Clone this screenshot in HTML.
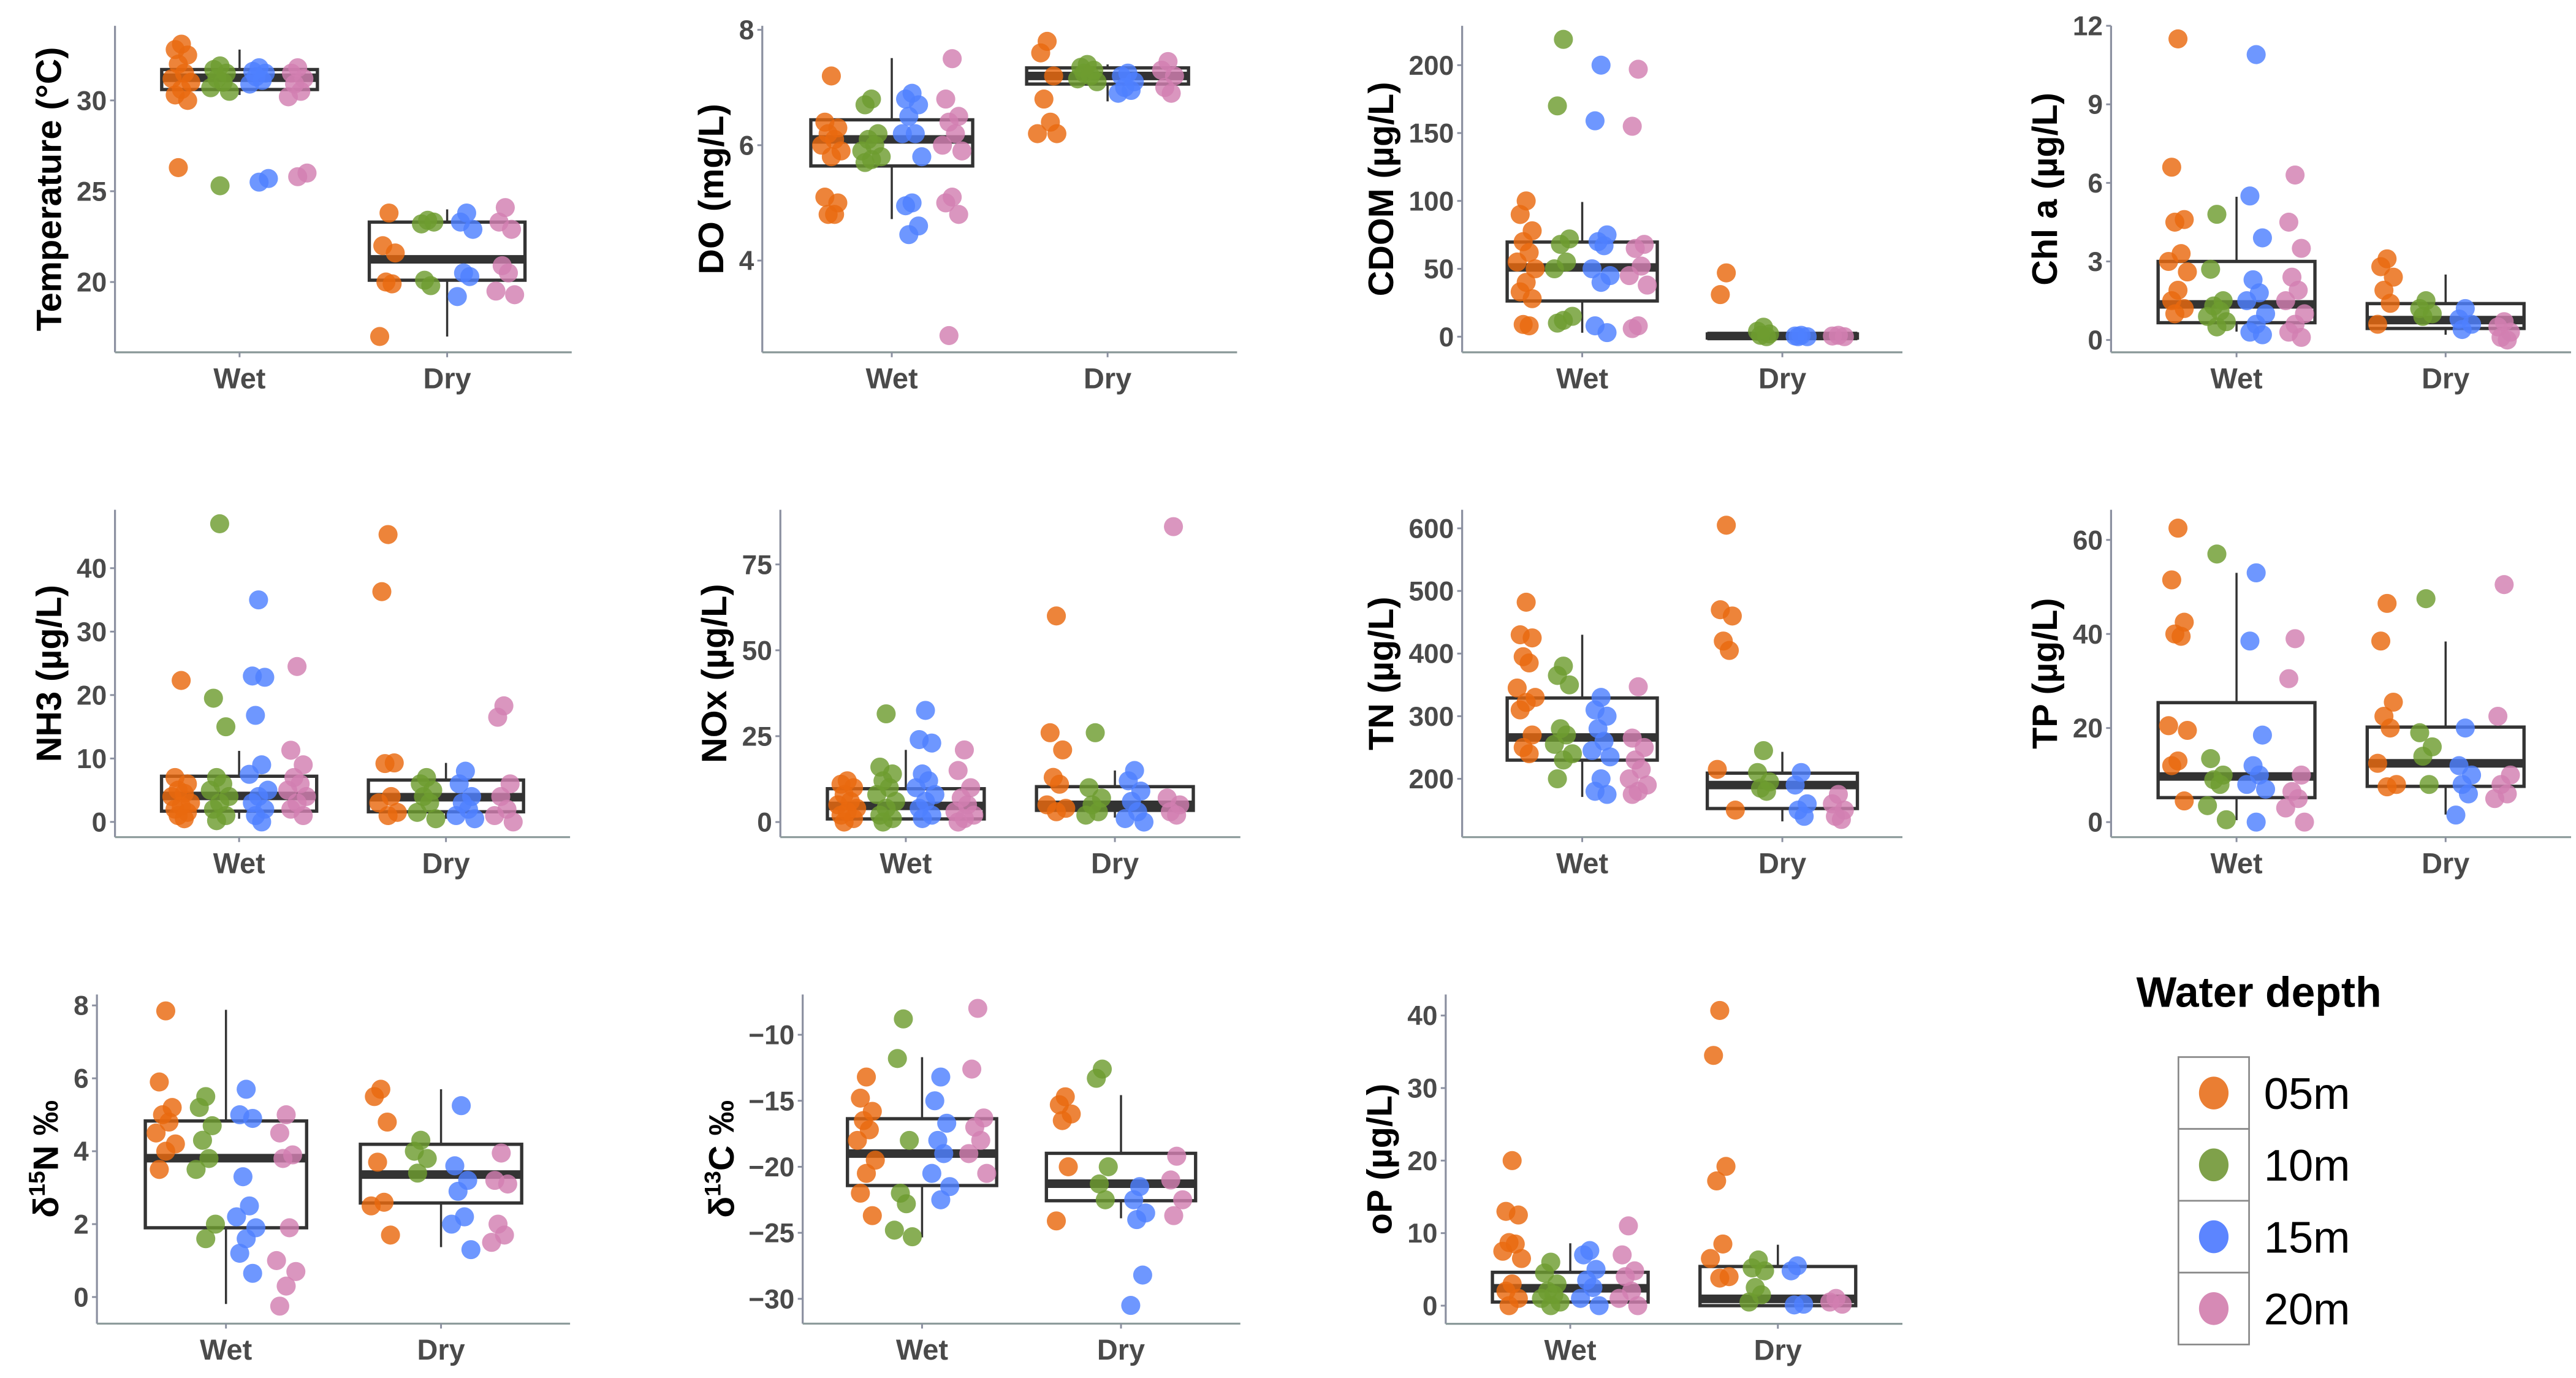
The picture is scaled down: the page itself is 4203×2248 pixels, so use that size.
<!DOCTYPE html>
<html><head><meta charset="utf-8">
<style>
html,body{margin:0;padding:0;background:#fff;}
svg{display:block;}
text{font-family:"Liberation Sans",Arial,sans-serif;}
</style></head>
<body>
<svg id="fig" xmlns="http://www.w3.org/2000/svg" width="4203" height="2248" viewBox="0 0 1568 839" preserveAspectRatio="none">
<rect x="0" y="0" width="1568" height="839" fill="#fff"/>
<g id="panels"></g>
<g id="legend">
  <text x="1375" y="613" font-size="26" font-weight="bold" text-anchor="middle" fill="#000">Water depth</text>
</g>
</svg>
<script>
const categories = ['Wet','Dry'];
const depths = ['05m','10m','15m','20m'];
const depthColors = ['#E9690F','#6E9C30','#4E80FF','#D27FB1'];
const legendColors = ['#EA7E33','#7FA14A','#5C85FF','#D68AB5'];

// Temperature
const tempTicks = [20,25,30];
const tempDomain = [16.13,34.11];
const tempBoxWet = [30.3,30.6,31.25,31.7,32.8];
const tempBoxDry = [17.0,20.1,21.25,23.3,24.0];
const tempWet = [[33.1,32.8,32.5,32.0,31.5,31.2,31.0,30.6,30.3,30.0,26.3],[31.9,31.7,31.5,31.2,31.0,30.7,30.5,25.3],[31.8,31.6,31.5,31.3,31.1,30.9,25.7,25.5],[31.8,31.5,31.2,30.9,30.5,30.2,26.0,25.8]];
const tempDry = [[23.8,22.0,21.6,20.0,19.9,17.0],[23.4,23.2,23.3,20.1,19.8],[23.8,23.3,22.9,20.5,20.3,19.2],[24.1,23.3,22.9,20.9,20.5,19.5,19.3]];

// DO
const doTicks = [4,6,8];
const doDomain = [2.41,8.07];
const doBoxWet = [4.72,5.64,6.1,6.44,7.51];
const doBoxDry = [6.76,7.06,7.2,7.34,7.4];
const doWet = [[7.2,6.4,6.3,6.2,6.1,6.0,5.9,5.8,5.1,5.0,4.8,4.8],[6.8,6.7,6.2,6.1,6.0,5.9,5.8,5.75,5.7],[6.9,6.8,6.7,6.5,6.2,6.2,5.8,5.0,4.95,4.6,4.45],[7.5,6.8,6.5,6.4,6.2,6.0,5.9,5.1,5.0,4.8,2.7]];
const doDry = [[7.8,7.6,7.2,6.8,6.4,6.2,6.2],[7.4,7.35,7.3,7.25,7.2,7.15,7.1],[7.25,7.2,7.1,7.0,6.95,6.9],[7.45,7.3,7.2,7.0,6.9]];

// CDOM
const cdomTicks = [0,50,100,150,200];
const cdomDomain = [-11.5,229];
const cdomBoxWet = [2.9,26.3,51,69.7,99.2];
const cdomBoxDry = [0,-1,0.5,2,2];
const cdomWet = [[100,90,78,70,62,55,50,40,33,28,9,8],[219,170,72,68,55,50,15,12,10],[200,159,75,70,67,50,45,40,8,3],[197,155,68,65,52,45,38,8,6]];
const cdomDry = [[47,31],[7,4,2,1,0],[1,0.5,0,0],[1,0.5,0]];

// Chl a
const chlTicks = [0,3,6,9,12];
const chlDomain = [-0.47,12.0];
const chlBoxWet = [0.32,0.66,1.36,3.0,5.47];
const chlBoxDry = [0.2,0.44,0.76,1.39,2.5];
const chlWet = [[11.5,6.6,4.6,4.5,3.3,3.0,2.6,1.9,1.5,1.2,1.0],[4.8,2.7,1.5,1.3,1.1,0.9,0.7,0.5],[10.9,5.5,3.9,2.3,1.8,1.5,1.0,0.6,0.3,0.2],[6.3,4.5,3.5,2.4,1.9,1.5,1.0,0.6,0.3,0.1]];
const chlDry = [[3.1,2.8,2.4,1.9,1.4,0.6],[1.5,1.2,1.0,0.9],[1.2,0.8,0.6,0.4],[0.7,0.5,0.3,0.1,0.0]];

// NH3
const nh3Ticks = [0,10,20,30,40];
const nh3Domain = [-2.4,49.2];
const nh3BoxWet = [0.5,1.7,4.1,7.2,11.2];
const nh3BoxDry = [0.5,1.6,3.9,6.6,9.3];
const nh3Wet = [[22.3,7,6,5,4.5,4,3,2.5,2,1.5,1,0.5],[47,19.5,15,7,6,5,4,3,2,1,0.2],[35,23,22.8,16.8,9,7.5,5,4,3,2,1,0],[24.5,11.3,9,7,6,5,4,3,2,1]];
const nh3Dry = [[45.3,36.3,9.3,9.2,4,3,1.5,1],[7,6,5,4,3,1.5,0.5],[8,6,4,3,2,1,0.5],[18.3,16.5,6,4,2,1,0]];

// NOx
const noxTicks = [0,25,50,75];
const noxDomain = [-4.4,90.9];
const noxBoxWet = [0.5,0.9,4.7,9.7,21];
const noxBoxDry = [1.3,3.4,5,10.3,15];
const noxWet = [[12,11,10,8,6,5,4,3,2,1,0],[31.5,16,14,12,10,8,6,4,2,1,0],[32.5,24,23,14,12,10,8,6,4,2,1],[21,15,10,7,5,3,2,1,0]];
const noxDry = [[60,26,21,13,11,5,4,3],[26,10,7,5,3,2],[15,12,9,6,3,1,0],[86,7,5,3,2]];

// TN
const tnTicks = [200,300,400,500,600];
const tnDomain = [106.8,629.6];
const tnBoxWet = [171,229.8,266,329,430];
const tnBoxDry = [132,152.5,190,209,243];
const tnWet = [[482,430,425,395,385,345,330,322,310,270,250,240],[380,365,350,280,270,255,240,230,200],[330,310,300,280,260,245,235,200,180,175],[347,265,250,230,215,200,190,180,175]];
const tnDry = [[605,470,460,420,405,215,150],[245,210,195,185,180],[210,190,160,150,140],[175,160,150,140,135]];

// TP
const tpTicks = [0,20,40,60];
const tpDomain = [-3.2,66.4];
const tpBoxWet = [0.4,5.2,9.7,25.4,53];
const tpBoxDry = [1.6,7.6,12.5,20.2,38.4];
const tpWet = [[62.5,51.5,42.5,40,39.5,20.5,19.5,13,12,4.5],[57,13.5,10,9,8,3.5,0.5],[53,38.5,18.5,12,10,8,7,0],[39,30.5,10,6.5,5,3,0]];
const tpDry = [[46.5,38.5,25.5,22.5,20,12.5,8,7.5],[47.5,19,16,14,8],[20,12,10,8,6,1.5],[50.5,22.5,10,8,6,5]];

// d15N
const n15Ticks = [0,2,4,6,8];
const n15Domain = [-0.73,8.30];
const n15BoxWet = [-0.19,1.9,3.81,4.83,7.88];
const n15BoxDry = [1.37,2.58,3.36,4.19,5.7];
const n15Wet = [[7.85,5.9,5.2,5.0,4.8,4.5,4.2,4.0,3.5],[5.5,5.2,4.7,4.3,3.8,3.5,2.0,1.6],[5.7,5.0,4.9,3.3,2.5,2.2,1.9,1.6,1.2,0.65],[5.0,4.5,3.9,3.8,1.9,1.0,0.7,0.3,-0.25]];
const n15Dry = [[5.7,5.5,4.8,3.7,2.6,2.5,1.7],[4.3,4.0,3.8,3.4],[5.25,3.6,3.2,2.9,2.2,2.0,1.3],[3.95,3.2,3.1,2.0,1.7,1.5]];

// d13C
const c13Ticks = [-30,-25,-20,-15,-10];
const c13Domain = [-31.88,-6.95];
const c13BoxWet = [-25.35,-21.42,-19.0,-16.36,-11.7];
const c13BoxDry = [-23.9,-22.57,-21.28,-18.98,-14.57];
const c13Wet = [[-13.2,-14.8,-15.8,-16.5,-17.2,-18,-19.5,-20.5,-22,-23.7],[-8.8,-11.8,-18.0,-22.0,-22.8,-24.8,-25.3],[-13.2,-15,-16.7,-18,-19,-20.5,-21.5,-22.5],[-8.0,-12.6,-16.3,-17,-18,-19,-20.5]];
const c13Dry = [[-14.7,-15.3,-16,-16.5,-20,-24.1],[-12.6,-13.3,-20,-21.3,-22.5],[-21.5,-22.5,-23.5,-24,-28.2,-30.5],[-19.2,-21,-22.5,-23.7]];

// oP
const opTicks = [0,10,20,30,40];
const opDomain = [-2.5,42.9];
const opBoxWet = [0.3,0.5,2.4,4.6,8.6];
const opBoxDry = [0,0,0.94,5.4,8.4];
const opWet = [[20,13,12.5,8.7,8.5,7.5,6.5,3,2,1,0],[6,4.5,3,2,1.5,1,0.5,0],[7.6,7,5,3.5,2.5,1,0],[11,7,4.8,4,2,1,0]];
const opDry = [[40.7,34.5,19.2,17.2,8.5,6.5,4,3.8],[6.3,5.2,4.8,2.5,1.5,0.5],[5.5,4.8,0.2,0.1],[1.0,0.5,0.2]];

const NS = 'http://www.w3.org/2000/svg';
function mk(tag, attrs, parent){
  const e = document.createElementNS(NS, tag);
  for (const k in attrs) e.setAttribute(k, attrs[k]);
  if (parent) parent.appendChild(e);
  return e;
}

const panels = [
  {id:'temperature', label:[['Temperature (°C)']], L:70, R:348, T:15.7, B:214.5, ticks:tempTicks, dom:tempDomain, box:[tempBoxWet,tempBoxDry], pts:[tempWet,tempDry]},
  {id:'do', label:[['DO (mg/L)']], L:464, R:753, T:15.7, B:214.5, ticks:doTicks, dom:doDomain, box:[doBoxWet,doBoxDry], pts:[doWet,doDry]},
  {id:'cdom', label:[['CDOM (µg/L)']], L:890, R:1158, T:15.7, B:214.5, ticks:cdomTicks, dom:cdomDomain, box:[cdomBoxWet,cdomBoxDry], pts:[cdomWet,cdomDry]},
  {id:'chl-a', label:[['Chl a (µg/L)']], L:1285, R:1565, T:15.7, B:214.5, ticks:chlTicks, dom:chlDomain, box:[chlBoxWet,chlBoxDry], pts:[chlWet,chlDry]},
  {id:'nh3', label:[['NH3 (µg/L)']], L:70, R:347, T:310.4, B:509.7, ticks:nh3Ticks, dom:nh3Domain, box:[nh3BoxWet,nh3BoxDry], pts:[nh3Wet,nh3Dry]},
  {id:'nox', label:[['NOx (µg/L)']], L:475, R:755, T:310.4, B:509.7, ticks:noxTicks, dom:noxDomain, box:[noxBoxWet,noxBoxDry], pts:[noxWet,noxDry]},
  {id:'tn', label:[['TN (µg/L)']], L:890, R:1158, T:310.4, B:509.7, ticks:tnTicks, dom:tnDomain, box:[tnBoxWet,tnBoxDry], pts:[tnWet,tnDry]},
  {id:'tp', label:[['TP (µg/L)']], L:1285, R:1565, T:310.4, B:509.7, ticks:tpTicks, dom:tpDomain, box:[tpBoxWet,tpBoxDry], pts:[tpWet,tpDry]},
  {id:'d15n', label:[['δ'],['15','sup'],['N ‰']], L:59, R:347, T:605.5, B:805.9, ticks:n15Ticks, dom:n15Domain, box:[n15BoxWet,n15BoxDry], pts:[n15Wet,n15Dry]},
  {id:'d13c', label:[['δ'],['13','sup'],['C ‰']], L:488.6, R:755, T:605.5, B:805.9, ticks:c13Ticks, dom:c13Domain, box:[c13BoxWet,c13BoxDry], pts:[c13Wet,c13Dry]},
  {id:'op', label:[['oP (µg/L)']], L:880, R:1158, T:605.5, B:806, ticks:opTicks, dom:opDomain, box:[opBoxWet,opBoxDry], pts:[opWet,opDry]}
];

const dodge = [-0.28,-0.094,0.094,0.28];
const jit = [0,-0.03,0.03,-0.015,0.015,-0.045,0.045];
const root = document.getElementById('panels');

panels.forEach(p => {
  const g = mk('g', {}, root);
  
  
  const unit = (p.R - p.L) / 2.2;
  const xc = k => p.L + (0.6 + k) * unit;
  const y = v => p.B - (v - p.dom[0]) / (p.dom[1] - p.dom[0]) * (p.B - p.T);

  const ax = mk('line', {x1:p.L, y1:p.T, x2:p.L, y2:p.B, stroke:'#8b90a0', 'stroke-width':1.2}, g);
  
  
  const ax2 = mk('line', {x1:p.L, y1:p.B, x2:p.R, y2:p.B, stroke:'#8b9a9a', 'stroke-width':1.2}, g);
  
  

  let maxLen = 0;
  p.ticks.forEach(t => {
    const ty = y(t);
    mk('line', {x1:p.L-3, y1:ty, x2:p.L, y2:ty, stroke:'#8b90a0', 'stroke-width':1.1}, g);
    const s = t < 0 ? '\u2212' + Math.abs(t) : String(t);
    maxLen = Math.max(maxLen, s.length);
    const tx = mk('text', {x:p.L-5, y:ty+5.8, 'font-size':16.5, 'font-weight':'bold', fill:'#4a4a4a', 'text-anchor':'end'}, g);
    tx.textContent = s;
    
    
  });

  const lx = p.L - 5 - maxLen * 9.2 - 17;
  const cy = (p.T + p.B) / 2;
  const lab = mk('text', {x:0, y:0, 'font-size':21.5, 'font-weight':'bold', fill:'#000', 'text-anchor':'middle', transform:'translate(' + (lx+7.5) + ',' + cy + ') rotate(-90)'}, g);
  
  
  p.label.forEach(part => {
    const ts = mk('tspan', {}, lab);
    if (part[1] === 'sup') { ts.setAttribute('font-size', '14'); ts.setAttribute('dy', '-8'); }
    else if (lab.childNodes.length > 1 && p.label.length > 1) { ts.setAttribute('dy', '8'); }
    ts.textContent = part[0];
  });

  categories.forEach((c, k) => {
    const x = xc(k);
    mk('line', {x1:x, y1:p.B, x2:x, y2:p.B+3, stroke:'#8b90a0', 'stroke-width':1.1}, g);
    const t = mk('text', {x:x, y:p.B+22, 'font-size':17.5, 'font-weight':'bold', fill:'#4a4a4a', 'text-anchor':'middle'}, g);
    t.textContent = c;
    
    
  });

  categories.forEach((c, k) => {
    const b = p.box[k];
    const x = xc(k), hw = 0.375 * unit;
    const bg = mk('g', {}, g);
    
    
    mk('line', {x1:x, y1:y(b[3]), x2:x, y2:y(b[4]), stroke:'#333', 'stroke-width':1.3}, bg);
    mk('line', {x1:x, y1:y(b[1]), x2:x, y2:y(b[0]), stroke:'#333', 'stroke-width':1.3}, bg);
    mk('rect', {x:x-hw, y:y(b[3]), width:2*hw, height:Math.max(0.5, y(b[1]) - y(b[3])), fill:'#fff', stroke:'#333', 'stroke-width':2}, bg);
    mk('line', {x1:x-hw, y1:y(b[2]), x2:x+hw, y2:y(b[2]), stroke:'#333', 'stroke-width':5.2}, bg);
  });

  categories.forEach((c, k) => {
    p.pts[k].forEach((arr, d) => {
      arr.forEach((v, i) => {
        const cx = xc(k) + (dodge[d] + jit[i % jit.length]) * unit;
        const pt = mk('circle', {cx:cx, cy:y(v), r:5.8, fill:depthColors[d], 'fill-opacity':0.82}, g);
        
        
      });
    });
  });
});

const lg = document.getElementById('legend');
depths.forEach((d, i) => {
  const top = 643.6 + i * 43.75;
  const key = mk('g', {}, lg);
  
  
  mk('rect', {x:1326, y:top, width:43, height:43.75, fill:'#fff', stroke:'#888', 'stroke-width':1}, key);
  mk('ellipse', {cx:1347.5, cy:top+21.9, rx:9, ry:10, fill:legendColors[i]}, key);
  const t = mk('text', {x:1378, y:top+31.5, 'font-size':27, fill:'#000'}, key);
  t.textContent = d;
});
</script>
</body></html>
